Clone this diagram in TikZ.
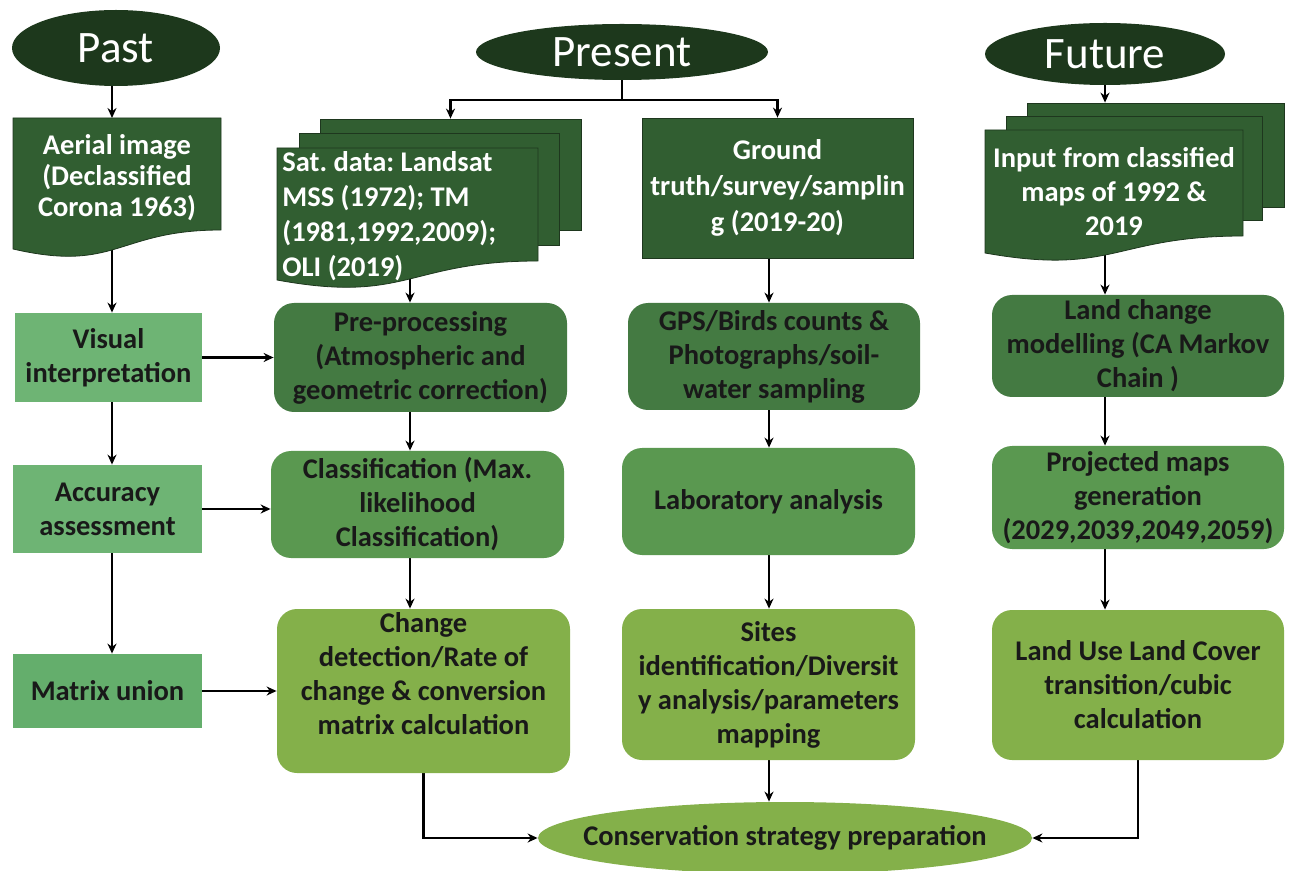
\documentclass[tikz,border=0pt]{standalone}
\usepackage{fontspec}
\setmainfont{Carlito}
\usetikzlibrary{arrows.meta,shapes.geometric,calc}
\definecolor{ellfill}{RGB}{29,56,28}
\definecolor{docfill}{RGB}{49,94,49}
\definecolor{docline}{RGB}{30,55,30}
\definecolor{gA}{RGB}{68,122,66}
\definecolor{gB}{RGB}{90,152,80}
\definecolor{gC}{RGB}{132,176,74}
\definecolor{gL}{RGB}{110,180,116}
\definecolor{gM}{RGB}{100,174,108}
\pgfdeclarelayer{bg}
\pgfsetlayers{bg,main}
\frenchspacing
\begin{document}
\begin{tikzpicture}[x=0.5pt,y=-0.5pt,
  ell/.style={ellipse, fill=ellfill, inner sep=0pt},
  elltxt/.style={text=white, font=\fontsize{22.5pt}{26pt}\selectfont, inner sep=0pt},
  wtxt/.style={text=white, font=\bfseries\fontsize{14.25pt}{17pt}\selectfont, align=center, inner sep=0pt},
  sheet/.style={rectangle, fill=docfill, draw=docline, line width=0.4pt, inner sep=0pt},
  rbox/.style={rectangle, rounded corners=10pt, inner sep=2pt, align=center, text=black!90, font=\bfseries\fontsize{14.25pt}{17pt}\selectfont},
  sbox/.style={rectangle, inner sep=2pt, align=center, text=black!90, font=\bfseries\fontsize{14.25pt}{17pt}\selectfont},
  btxt/.style={inner sep=0pt, align=center, text=black!90, font=\bfseries\fontsize{14.25pt}{17pt}\selectfont},
  conn/.style={line width=1.1pt, -{Stealth[length=5pt,width=4.5pt]}},
  plainline/.style={line width=1.1pt}
]
\useasboundingbox (0,0) rectangle (1290,871);

% ---------- ellipses ----------
\node[ell, minimum width=104pt, minimum height=38pt] (past) at (116,48) {};
\node[elltxt] (pastT) at (past) {Past};
\node[ell, minimum width=146pt, minimum height=28pt] (present) at (622,52) {};
\node[elltxt] (presentT) at (present) {Present};
\node[ell, minimum width=120pt, minimum height=31pt] (future) at (1105,54) {};
\node[elltxt] (futureT) at (future) {Future};

% ---------- Past column ----------
\fill[docfill, draw=docline, line width=0.4pt] (13,118) -- (221,118) -- (221,230) .. controls (117,230) and (117,273) .. (13,249) -- cycle;
\node[wtxt, font=\bfseries\fontsize{14.25pt}{15.5pt}\selectfont] (aerial) at (117,178) {Aerial image\\(Declassified\\Corona 1963)};
\node[sbox, fill=gL, minimum width=93.5pt, minimum height=44.5pt] (visual) at (108.5,357.5) {Visual\\interpretation};
\node[sbox, fill=gL, minimum width=94.5pt, minimum height=44pt] (acc) at (107.5,509) {Accuracy\\assessment};
\node[sbox, fill=gM, minimum width=94.5pt, minimum height=37pt] (mat) at (107.5,691) {Matrix union};

% ---------- Present: satellite data ----------
\node[sheet, minimum width=130.5pt, minimum height=55.5pt] (satC) at (450.5,174.5) {};
\node[sheet, minimum width=130pt, minimum height=56pt] (satB) at (429,189) {};
\fill[docfill, draw=docline, line width=0.4pt] (277,148) -- (538,148) -- (538,261) .. controls (407.5,261) and (407.5,304) .. (277,280) -- cycle;
\node[wtxt, align=left, anchor=west, font=\bfseries\fontsize{14.25pt}{17.5pt}\selectfont] (satA) at (282,216) {Sat. data: Landsat\\MSS (1972); TM\\(1981,1992,2009);\\OLI (2019)};
\node[rbox, fill=gA, minimum width=146.5pt, minimum height=54.5pt] (pre) at (420.5,357.5) {Pre-processing\\(Atmospheric and\\geometric correction)};
\node[rbox, fill=gB, minimum width=146.5pt, minimum height=53.5pt] (cls) at (417.5,504.5) {Classification (Max.\\likelihood\\Classification)};
\node[rbox, fill=gC, minimum width=146.5pt, minimum height=82pt] (chg) at (423.5,691) {};
\node[btxt] (chgT) at (423.5,674) {Change\\detection/Rate of\\change \& conversion\\matrix calculation};

% ---------- Present: ground truth ----------
\node[sheet, minimum width=135.5pt, minimum height=70pt, text=white, align=center, font=\bfseries\fontsize{14.25pt}{18pt}\selectfont] (ground) at (777.5,188) {Ground\\truth/survey/samplin\\g (2019-20)};
\node[rbox, fill=gA, minimum width=146pt, minimum height=53.5pt] (gps) at (774,356.5) {GPS/Birds counts \&\\Photographs/soil-\\water sampling};
\node[rbox, fill=gB, minimum width=146.5pt, minimum height=53.5pt] (lab) at (768.5,501.5) {Laboratory analysis};
\node[rbox, fill=gC, minimum width=146.5pt, minimum height=75.5pt] (sites) at (768.5,684.5) {Sites\\identification/Diversit\\y analysis/parameters\\mapping};

% ---------- Future column ----------
\node[sheet, minimum width=128.5pt, minimum height=52pt] (futC) at (1155.5,155) {};
\node[sheet, minimum width=128pt, minimum height=52pt] (futB) at (1134,168) {};
\fill[docfill, draw=docline, line width=0.4pt] (985,130) -- (1243,130) -- (1243,236) .. controls (1114,236) and (1114,276) .. (985,253) -- cycle;
\node[wtxt] (futA) at (1114,192) {Input from classified\\maps of 1992 \&\\2019};
\node[rbox, fill=gA, minimum width=146pt, minimum height=51pt] (land) at (1138,346) {Land change\\modelling (CA Markov\\Chain )};
\node[rbox, fill=gB, minimum width=146pt, minimum height=51.5pt] (proj) at (1138,497.5) {Projected maps\\generation\\(2029,2039,2049,2059)};
\node[rbox, fill=gC, minimum width=146pt, minimum height=75pt] (luse) at (1138,685) {Land Use Land Cover\\transition/cubic\\calculation};

% ---------- conservation ----------
\node[ellipse, fill=gC, inner sep=0pt, minimum width=247pt, minimum height=36pt] (cons) at (785,838) {};
\node[btxt] (consT) at (cons) {Conservation strategy preparation};

% ---------- connectors ----------
\coordinate (colA) at (112,0);
\coordinate (colB) at (410,0);
\coordinate (colC) at (769,0);
\coordinate (colD) at (1105,0);
\coordinate (fork) at (622,100);
\coordinate (aerialTop) at (112,118);
\begin{pgfonlayer}{bg}
\draw[conn] (past.south -| colA) -- (aerialTop);
\draw[conn] (aerial -| colA) -- (visual.north -| colA);
\draw[conn] (visual.south -| colA) -- (acc.north -| colA);
\draw[conn] (acc.south -| colA) -- (mat.north -| colA);
\draw[conn] (visual) -- (pre);
\draw[conn] (acc.east) -- (acc.east -| cls.west);
\draw[conn] (mat.east) -- (mat.east -| chg.west);
\draw[plainline] (present.south) -- (fork);
\draw[conn] (fork) -| (satC.north);
\draw[conn] (fork) -| (ground.north);
\draw[conn] (satA -| colB) -- (pre.north -| colB);
\draw[conn] (pre.south -| colB) -- (cls.north -| colB);
\draw[conn] (cls.south -| colB) -- (chg.north -| colB);
\draw[conn] (chg.south) |- (cons.west);
\draw[conn] (ground.south -| colC) -- (gps.north -| colC);
\draw[conn] (gps.south -| colC) -- (lab.north -| colC);
\draw[conn] (lab.south -| colC) -- (sites.north -| colC);
\draw[conn] (sites.south -| colC) -- (cons.north -| colC);
\draw[conn] (future.south -| colD) -- (futC.north -| colD);
\draw[conn] (futA -| colD) -- (land.north -| colD);
\draw[conn] (land.south -| colD) -- (proj.north -| colD);
\draw[conn] (proj.south -| colD) -- (luse.north -| colD);
\draw[conn] (luse.south) |- (cons.east);
\end{pgfonlayer}
\end{tikzpicture}
\end{document}
